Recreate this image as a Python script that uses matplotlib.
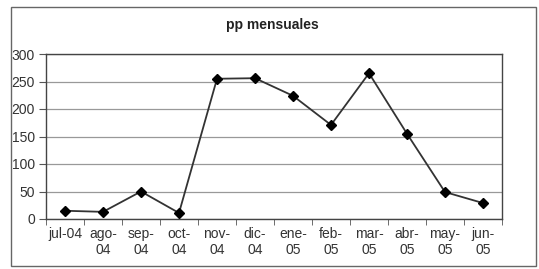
import numpy as np
import matplotlib.pyplot as plt
from matplotlib.patches import Rectangle

plt.rcParams['font.family'] = ['Liberation Sans', 'DejaVu Sans']

# precipitación mensual (mm)
meses = ['jul-04', 'ago-\n04', 'sep-\n04', 'oct-\n04', 'nov-\n04', 'dic-\n04',
         'ene-\n05', 'feb-\n05', 'mar-\n05', 'abr-\n05', 'may-\n05', 'jun-\n05']
pp = [15, 13, 50, 11, 255, 256, 224, 171, 265, 155, 49, 29]

fig = plt.figure(figsize=(5.39, 2.69), dpi=100)
ax = fig.add_axes([46 / 539, 1 - 219 / 269, 456 / 539, 165 / 269])

x = np.arange(len(pp))
ax.plot(x, pp, color='#333333', lw=1.3, marker='D', ms=5,
        mfc='black', mec='black', zorder=3)

ax.set_xlim(-0.5, len(pp) - 0.5)
ax.set_ylim(0, 300)
ax.set_yticks(range(0, 301, 50))
ax.yaxis.grid(True, color='#999999', lw=0.9)
ax.set_axisbelow(True)

ax.set_xticks(x)
ax.set_xticklabels(meses, linespacing=1.15)
ax.set_xticks(np.arange(-0.5, len(pp), 1), minor=True)
ax.tick_params(axis='x', which='major', length=0, pad=6, labelsize=10, colors='#333333')
ax.tick_params(axis='x', which='minor', length=4, direction='out', color='#555555')
ax.tick_params(axis='y', length=5, direction='out', color='#555555',
               labelsize=10, labelcolor='#333333', pad=3)

for s in ax.spines.values():
    s.set_color('#444444')
    s.set_linewidth(1)

fig.text(272 / 539, 1 - 25 / 269, 'pp mensuales', ha='center', va='center',
         fontsize=10, fontweight='bold', color='#222222')

fig.patches.append(Rectangle((11 / 539, 1 - 266 / 269), 525 / 539, 259 / 269,
                             transform=fig.transFigure, fill=False,
                             edgecolor='#666666', lw=1))

fig.savefig('out.png', dpi=100)
